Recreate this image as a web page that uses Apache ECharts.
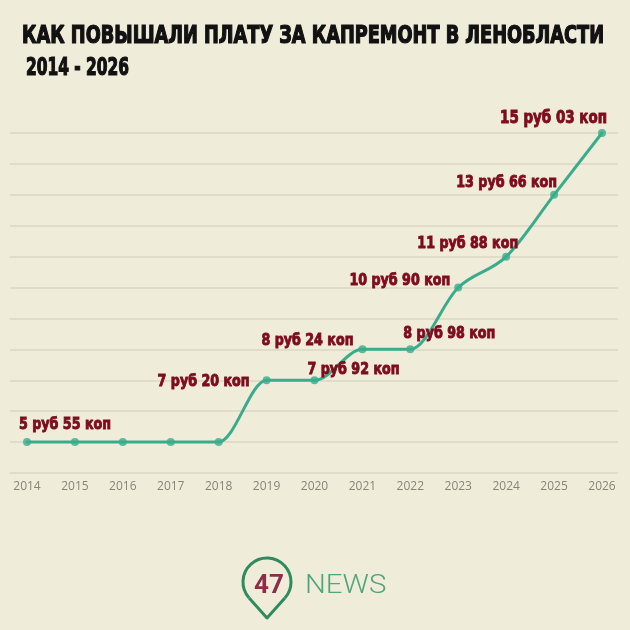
<!DOCTYPE html>
<html><head><meta charset="utf-8">
<script src="https://cdn.jsdelivr.net/npm/echarts@6/dist/echarts.min.js"></script>
<style>html,body{margin:0;padding:0;background:#f0ecda;}#c{width:630px;height:630px;}</style>
</head><body><div id="c"></div>
<script>
// Data
var years = ['2014','2015','2016','2017','2018','2019','2020','2021','2022','2023','2024','2025','2026'];
// vertical level of each point as drawn on the picture's gridlines (chart is not to scale)
var plotLevel = [1, 1, 1, 1, 1, 3, 3, 4, 4, 6, 7, 9, 11];
// fee labels (руб / коп) as written on the chart; null = no label
var rub = [5, null, null, null, null, 7, 7, 8, 8, 10, 11, 13, 15];
var kop = ['55', null, null, null, null, '20', '92', '24', '98', '90', '88', '66', '03'];
var titleText = 'КАК ПОВЫШАЛИ ПЛАТУ ЗА КАПРЕМОНТ В ЛЕНОБЛАСТИ';
var subtitleText = '2014 - 2026';

// label placement (style, not data): [align, dx, dy, fontSize]
var labelPlace = [
  ['left', -8, -17, 16.5], null, null, null, null,
  ['right', -17, 1, 16.5],
  ['left', -7, -11, 16.5],
  ['right', -9, -9, 16.5],
  ['left', -7, -16, 16.5],
  ['right', -8, -7, 16.5],
  ['right', 12, -13, 16.5],
  ['right', 3, -12, 16.5],
  ['right', 5, -15, 17.5]
];

var boldFont = '"DejaVu Sans Condensed", "DejaVu Sans", sans-serif';
var mctx = document.createElement('canvas').getContext('2d');
function measure(txt, size) {
  mctx.font = 'bold ' + size + 'px ' + boldFont;
  return mctx.measureText(txt).width;
}
var titleSize = 24, subSize = 24;
var titleScale = 582 / measure(titleText, titleSize);
var subScale = 103 / measure(subtitleText, subSize);
var labelScale = 92 / measure('5 руб 55 коп', 16.5);

var n = plotLevel.length;
// monotone cubic tangents (pixel space)
function tangents(pts) {
  var t = new Array(pts.length);
  for (var i = 1; i < pts.length - 1; i++) {
    var h0 = pts[i][0] - pts[i - 1][0], h1 = pts[i + 1][0] - pts[i][0];
    var s0 = (pts[i][1] - pts[i - 1][1]) / h0, s1 = (pts[i + 1][1] - pts[i][1]) / h1;
    var p = (s0 * h1 + s1 * h0) / (h0 + h1);
    t[i] = (Math.sign(s0) + Math.sign(s1)) * Math.min(Math.abs(s0), Math.abs(s1), 0.5 * Math.abs(p)) || 0;
  }
  var hA = pts[1][0] - pts[0][0];
  t[0] = (3 * (pts[1][1] - pts[0][1]) / hA - t[1]) / 2;
  var k = pts.length - 1, hB = pts[k][0] - pts[k - 1][0];
  t[k] = (3 * (pts[k][1] - pts[k - 1][1]) / hB - t[k - 1]) / 2;
  return t;
}

var segData = [];
for (var i = 0; i < n - 1; i++) segData.push([i, plotLevel[i]]);
var pointData = plotLevel.map(function (v, i) { return [i, v]; });
var labelData = [];
plotLevel.forEach(function (v, i) { if (rub[i] !== null) labelData.push([i, v, rub[i] + ' руб ' + kop[i] + ' коп']); });

var teal = '#3aac8c';
var chart = echarts.init(document.getElementById('c'), null, { renderer: 'canvas' });
chart.setOption({
  backgroundColor: '#f0ecda',
  animation: false,
  grid: [
    { left: 27, right: 28, top: 133, bottom: 157 },
    { left: 10, right: 12, top: 133, bottom: 157 }
  ],
  xAxis: [
    { type: 'category', data: years, boundaryGap: false, gridIndex: 0,
      axisLine: { show: false }, axisTick: { show: false },
      axisLabel: { color: '#8a8477', fontSize: 12, fontFamily: '"Open Sans", sans-serif', margin: 8 } },
    { type: 'value', gridIndex: 1, show: false, min: 0, max: 1 }
  ],
  yAxis: [
    { type: 'value', gridIndex: 0, min: 0, max: 11, interval: 1, show: false },
    { type: 'value', gridIndex: 1, min: 0, max: 11, interval: 1,
      axisLine: { show: false }, axisTick: { show: false }, axisLabel: { show: false },
      splitLine: { show: true, lineStyle: { color: '#e1dcc8', width: 2 } } }
  ],
  series: [
    {
      type: 'custom', xAxisIndex: 0, yAxisIndex: 0, clip: false, z: 2,
      data: segData,
      renderItem: function (params, api) {
        var pts = plotLevel.map(function (v, j) { return api.coord([j, v]); });
        var t = tangents(pts);
        var i = params.dataIndex;
        var a = pts[i], b = pts[i + 1], dx = (b[0] - a[0]) / 3;
        return {
          type: 'bezierCurve',
          shape: { x1: a[0], y1: a[1], cpx1: a[0] + dx, cpy1: a[1] + dx * t[i],
                   cpx2: b[0] - dx, cpy2: b[1] - dx * t[i + 1], x2: b[0], y2: b[1] },
          style: { fill: null, stroke: teal, lineWidth: 3, lineCap: 'round' }
        };
      }
    },
    {
      type: 'scatter', xAxisIndex: 0, yAxisIndex: 0, z: 3,
      data: pointData, symbol: 'circle', symbolSize: 8,
      itemStyle: { color: teal }
    },
    {
      type: 'custom', xAxisIndex: 0, yAxisIndex: 0, clip: false, z: 4,
      data: labelData,
      renderItem: function (params, api) {
        var i = api.value(0);
        var c = api.coord([i, api.value(1)]);
        var p = labelPlace[i];
        return {
          type: 'text', x: c[0] + p[1], y: c[1] + p[2], scaleX: labelScale,
          style: { text: labelData[params.dataIndex][2], fill: '#7e0b1e', align: p[0], verticalAlign: 'middle',
                   fontSize: p[3], fontWeight: 'bold', fontFamily: boldFont,
                   stroke: '#7e0b1e', lineWidth: 0.9 }
        };
      }
    }
  ],
  graphic: [
    { type: 'text', x: 22, y: 37, scaleX: titleScale, style: { text: titleText, fill: '#111', fontSize: titleSize, fontWeight: 'bold', fontFamily: boldFont, verticalAlign: 'middle', stroke: '#111', lineWidth: 1.2 } },
    { type: 'text', x: 26, y: 69, scaleX: subScale, style: { text: subtitleText, fill: '#111', fontSize: subSize, fontWeight: 'bold', fontFamily: boldFont, verticalAlign: 'middle', stroke: '#111', lineWidth: 1.2 } },
    { type: 'arc', shape: { cx: 267, cy: 582, r: 24, startAngle: 138.2 * Math.PI / 180, endAngle: 401.8 * Math.PI / 180, clockwise: true },
      style: { fill: 'none', stroke: '#2f8a5e', lineWidth: 3 } },
    { type: 'polyline', shape: { points: [[284.9, 598], [267, 618], [249.1, 598]] },
      style: { fill: 'none', stroke: '#2f8a5e', lineWidth: 3, lineJoin: 'round' } },
    { type: 'text', x: 269, y: 586, style: { text: '47', fill: '#8b2e48', fontSize: 26, fontWeight: 'bold', fontFamily: 'Roboto, sans-serif', align: 'center', verticalAlign: 'middle' } },
    { type: 'text', x: 305, y: 586, scaleX: 1.13, style: { text: 'NEWS', fill: '#4fa57c', fontSize: 26, fontWeight: 300, fontFamily: 'Roboto, sans-serif', align: 'left', verticalAlign: 'middle' } }
  ]
});
</script>
</body></html>
